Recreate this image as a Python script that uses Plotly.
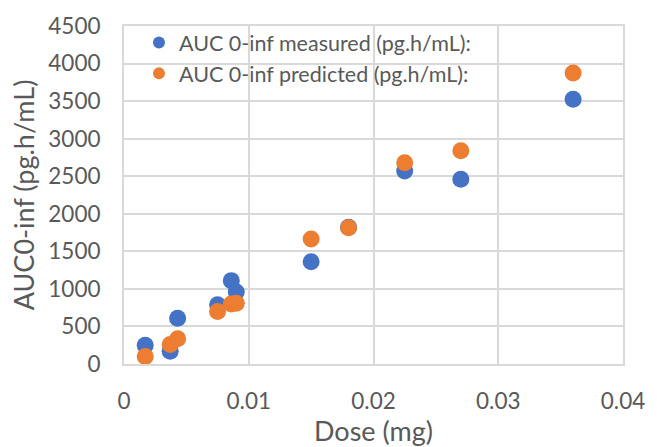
import plotly.graph_objects as go

dose = [0.0017, 0.0037, 0.0043, 0.0075, 0.0086, 0.0090, 0.0150, 0.0180, 0.0225, 0.0270, 0.0360]
auc_measured = [250, 170, 610, 790, 1110, 960, 1360, 1820, 2570, 2460, 3525]
auc_predicted = [100, 260, 335, 700, 800, 810, 1665, 1815, 2680, 2840, 3875]

x_ticks = [0, 0.01, 0.02, 0.03, 0.04]
x_labels = ["0", "0.01", "0.02", "0.03", "0.04"]
y_ticks = list(range(0, 4501, 500))

FONT = "Lato"
TXT = "#595959"
GRID = "#D9D9D9"

fig = go.Figure()
fig.add_trace(go.Scatter(x=dose, y=auc_measured, mode="markers",
                         name="AUC 0-inf measured (pg.h/mL):",
                         marker=dict(color="#4472C4", size=17)))
fig.add_trace(go.Scatter(x=dose, y=auc_predicted, mode="markers",
                         name="AUC 0-inf predicted (pg.h/mL):",
                         marker=dict(color="#ED7D31", size=17)))

fig.update_layout(
    width=657, height=447,
    margin=dict(l=124, r=26, t=20, b=82),
    paper_bgcolor="white", plot_bgcolor="white",
    font=dict(family=FONT, color=TXT),
    showlegend=True,
    legend=dict(x=0.03, y=1.012, xanchor="left", yanchor="top",
                bgcolor="rgba(0,0,0,0)", font=dict(size=21.5, color=TXT, family=FONT),
                itemwidth=30, itemsizing="constant", tracegroupgap=0),
    xaxis=dict(range=[0, 0.04], tickvals=x_ticks, ticktext=x_labels,
               showgrid=True, gridcolor=GRID, gridwidth=2,
               showline=True, linecolor=GRID, linewidth=2, mirror=True,
               zeroline=False, ticks="outside", ticklen=16, tickcolor="rgba(0,0,0,0)",
               tickfont=dict(size=22.5, color=TXT),
               title=dict(text="Dose (mg)", font=dict(size=27, color=TXT), standoff=2)),
    yaxis=dict(range=[0, 4500], tickvals=y_ticks,
               showgrid=True, gridcolor=GRID, gridwidth=2,
               showline=True, linecolor=GRID, linewidth=2, mirror=True,
               zeroline=False, ticks="outside", ticklen=17, tickcolor="rgba(0,0,0,0)",
               tickfont=dict(size=22.5, color=TXT),
               title=dict(text="AUC0-inf (pg.h/mL)", font=dict(size=27, color=TXT), standoff=6)),
)

fig.write_html("out.html")
